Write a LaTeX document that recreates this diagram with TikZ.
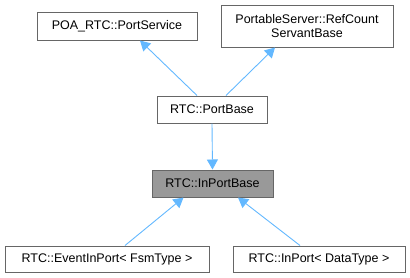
\documentclass[tikz,border=0pt]{standalone}
\usepackage{fontspec}
\setmainfont{Liberation Sans}
\usepackage{tikz}
\usetikzlibrary{arrows.meta, calc, positioning}

\definecolor{edgeblue}{HTML}{63B8FF}
\definecolor{boxline}{HTML}{666666}
\definecolor{boxgray}{HTML}{999999}

\tikzset{
	cls/.style={draw=boxline, fill=white, line width=1pt, inner sep=0pt, align=center,
		font=\fontsize{12.5}{14.5}\selectfont},
	inh/.style={draw=edgeblue, line width=0.9pt, -{Triangle[length=10pt,width=11pt]}}
}

\begin{document}
\begin{tikzpicture}[x=1pt, y=-1pt]
		\useasboundingbox (0,0) rectangle (410,277);
		% classes
		\node[cls, minimum width=160pt, minimum height=28pt] (psvc) at (117,26) {POA\_RTC::PortService};
		\node[cls, minimum width=172pt, minimum height=42pt] (rcsb) at (307,26) {PortableServer::RefCount\\ServantBase};
		\node[cls, minimum width=110pt, minimum height=27pt] (pbase) at (212,109.5) {RTC::PortBase};
		\node[cls, fill=boxgray, minimum width=121pt, minimum height=27pt] (ipbase) at (212.5,183.5) {RTC::InPortBase};
		\node[cls, minimum width=204pt, minimum height=26pt] (evin) at (107,259) {RTC::EventInPort< FsmType >};
		\node[cls, minimum width=172pt, minimum height=26pt] (inport) at (319,259) {RTC::InPort< DataType >};
		% inheritance
		\draw[inh] ($(pbase.north)+(-15,0)$) -- ($(psvc.south)+(23,0)$);
		\draw[inh] ($(pbase.north)+(14,0)$) -- ($(rcsb.south)+(-32,0)$);
		\draw[inh] (pbase.south) -- (ipbase.north);
		\draw[inh] ($(evin.north)+(18,0)$) -- ($(ipbase.south)+(-29,0)$);
		\draw[inh] ($(inport.north)+(-19,0)$) -- ($(ipbase.south)+(25.5,0)$);
	\end{tikzpicture}
\end{document}
